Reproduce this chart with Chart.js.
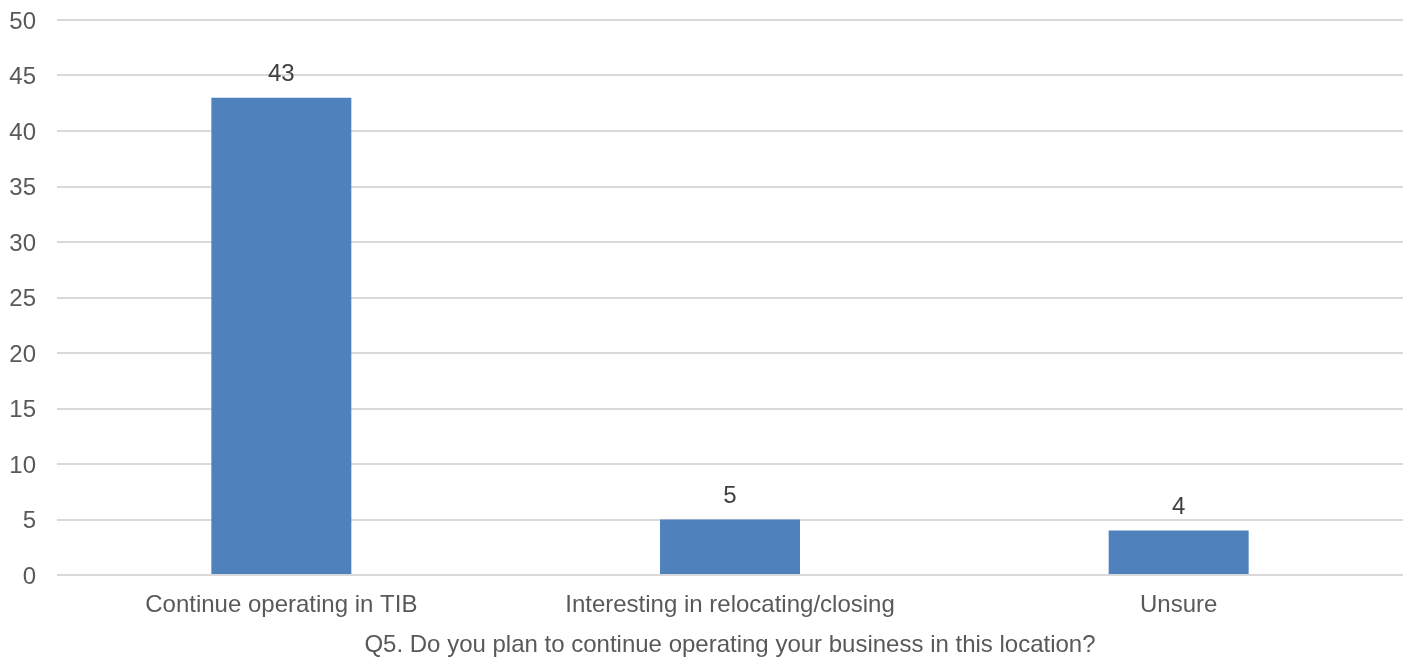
<!DOCTYPE html>
<html>
<head>
<meta charset="utf-8">
<script src="https://cdn.jsdelivr.net/npm/chart.js@4/dist/chart.umd.min.js"></script>
<style>
  html, body { margin: 0; padding: 0; background: #fff; }
  #wrap { width: 1413px; height: 661px; }
</style>
</head>
<body>
<div id="wrap"><canvas id="chart" width="1413" height="661"></canvas></div>
<script>
// ── DATA ──────────────────────────────────────────────────────
const categories = ['Continue operating in TIB', 'Interesting in relocating/closing', 'Unsure'];
const responses  = [43, 5, 4];
const yTicks     = [0, 5, 10, 15, 20, 25, 30, 35, 40, 45, 50];
const xTitle     = 'Q5. Do you plan to continue operating your business in this location?';

const FONT = "'Liberation Sans', Arial, sans-serif";
const TEXT = '#595959';
const SIZE = 24;

// value labels above each bar
const barLabels = {
  id: 'barLabels',
  afterDatasetsDraw(chart) {
    const { ctx } = chart;
    const meta = chart.getDatasetMeta(0);
    ctx.save();
    ctx.font = `${SIZE}px ${FONT}`;
    ctx.fillStyle = '#404040';
    ctx.textAlign = 'center';
    ctx.textBaseline = 'bottom';
    meta.data.forEach((bar, i) => {
      ctx.fillText(String(responses[i]), bar.x, bar.y - 11);
    });
    ctx.restore();
  }
};

new Chart(document.getElementById('chart'), {
  type: 'bar',
  data: {
    labels: categories,
    datasets: [{
      data: responses,
      backgroundColor: '#4f81bd',
      categoryPercentage: 1,
      barPercentage: 0.312,
    }]
  },
  options: {
    responsive: false,
    animation: false,
    layout: { padding: { top: 20, right: 10, left: 0, bottom: 0 } },
    plugins: { legend: { display: false }, tooltip: { enabled: false } },
    scales: {
      x: {
        grid: { display: false },
        border: { display: false },
        ticks: { color: TEXT, font: { family: FONT, size: SIZE }, padding: 8 },
        title: {
          display: true, text: xTitle, color: TEXT,
          font: { family: FONT, size: SIZE }, padding: { top: 10, bottom: 1 }
        },
        afterFit(scale) { scale.height = 86; }
      },
      y: {
        min: 0, max: 50,
        afterBuildTicks(scale) { scale.ticks = yTicks.map(v => ({ value: v })); },
        grid: { color: '#d9d9d9', lineWidth: 2, drawTicks: false },
        border: { display: false },
        ticks: { color: TEXT, font: { family: FONT, size: SIZE }, padding: 21, labelOffset: 2 },
        afterFit(scale) { scale.width = 57; scale.paddingTop = 0; scale.paddingBottom = 0; }
      }
    }
  },
  plugins: [barLabels]
});
</script>
</body>
</html>
